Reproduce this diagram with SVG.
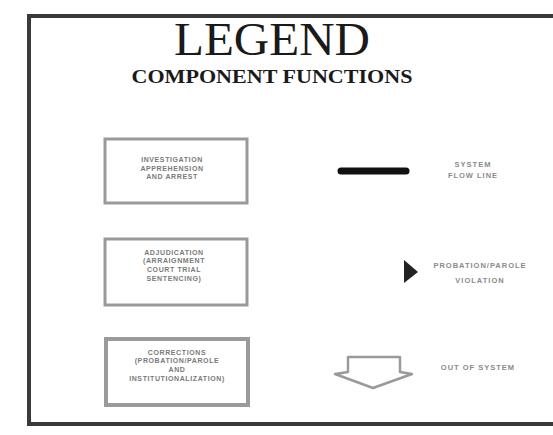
<svg xmlns="http://www.w3.org/2000/svg" width="553" height="435" viewBox="0 0 553 435">
<style>
.box{fill:#ffffff;stroke:#9a9a9a;stroke-width:3}
.bt{font-family:"Liberation Sans",Arial,sans-serif;font-weight:bold;font-size:7px;letter-spacing:0.6px;fill:#7a7a7a;text-anchor:middle}
.lt{font-family:"Liberation Sans",Arial,sans-serif;font-weight:bold;font-size:7.5px;letter-spacing:1px;fill:#8a8a8a;text-anchor:middle}
</style>
<rect width="553" height="435" fill="#ffffff"/>
<g id="frame">
<path d="M29 426 L29 16 L553 16" fill="none" stroke="#3a3a3a" stroke-width="4"/>
<path d="M29 424 L553 424" fill="none" stroke="#3a3a3a" stroke-width="4"/>
</g>
<g id="title">
<text x="272" y="55" font-family="Liberation Serif,'Times New Roman',serif" font-size="47" fill="#1a1a1a" text-anchor="middle" textLength="196" lengthAdjust="spacingAndGlyphs">LEGEND</text>
<text x="272" y="83" font-family="Liberation Serif,'Times New Roman',serif" font-size="18" font-weight="bold" fill="#1a1a1a" text-anchor="middle" textLength="281" lengthAdjust="spacingAndGlyphs">COMPONENT  FUNCTIONS</text>
</g>
<g id="investigation">
<rect class="box" x="105" y="139" width="142" height="64"/>
<text class="bt" x="172" y="162">INVESTIGATION</text>
<text class="bt" x="172" y="170.5">APPREHENSION</text>
<text class="bt" x="172" y="179">AND ARREST</text>
</g>
<g id="adjudication">
<rect class="box" x="105" y="239" width="142" height="66"/>
<text class="bt" x="174" y="254.5">ADJUDICATION</text>
<text class="bt" x="174" y="263">(ARRAIGNMENT</text>
<text class="bt" x="174" y="272">COURT TRIAL</text>
<text class="bt" x="174" y="281">SENTENCING)</text>
</g>
<g id="corrections">
<rect x="106" y="339" width="142" height="66" fill="#ffffff" stroke="#9a9a9a" stroke-width="4"/>
<text class="bt" x="177" y="354.5">CORRECTIONS</text>
<text class="bt" x="177" y="363">(PROBATION/PAROLE</text>
<text class="bt" x="177" y="372">AND</text>
<text class="bt" x="177" y="381">INSTITUTIONALIZATION)</text>
</g>
<g id="connectors">
<line x1="341" y1="171" x2="406" y2="171" stroke="#111111" stroke-width="7" stroke-linecap="round"/>
<polygon points="404,260 418,272 404,283" fill="#222222"/>
<path d="M348 372 L348 357 L400 357 L400 372 L412 374 L373 388 L335 374 Z" fill="none" stroke="#9a9a9a" stroke-width="2.5" stroke-linejoin="round"/>
</g>
<g id="legend-labels">
<text class="lt" x="473" y="167">SYSTEM</text>
<text class="lt" x="473" y="178">FLOW LINE</text>
<text class="lt" x="480" y="268">PROBATION/PAROLE</text>
<text class="lt" x="480" y="283">VIOLATION</text>
<text class="lt" x="478" y="370">OUT OF SYSTEM</text>
</g>
</svg>
